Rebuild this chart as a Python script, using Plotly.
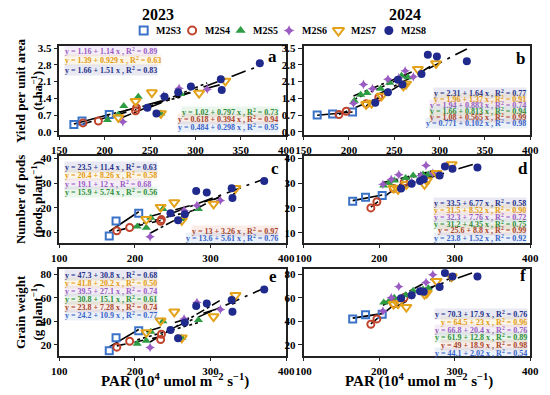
import numpy as np
import plotly.graph_objects as go

groups = ["M2S3", "M2S4", "M2S5", "M2S6", "M2S7", "M2S8"]

# ---- 2023 PAR (10^4 umol m-2 s-1) per group ----
par23 = {
    "M2S3": [166, 175, 205],
    "M2S4": [176, 193, 234, 235],
    "M2S5": [203, 215, 221, 237, 262, 284],
    "M2S6": [220, 265, 282, 313],
    "M2S7": [215, 234, 252, 262, 304, 333],
    "M2S8": [247, 257, 266, 281, 295, 328, 329, 371],
}
yield23 = {
    "M2S3": [0.30, 0.45, 0.72],
    "M2S4": [0.37, 0.45, 0.88, 1.00],
    "M2S5": [0.49, 0.72, 1.08, 1.47, 0.77, 1.58],
    "M2S6": [0.42, 1.50, 1.82, 1.78],
    "M2S7": [0.60, 1.28, 1.64, 0.77, 1.62, 2.13],
    "M2S8": [1.01, 0.77, 1.47, 1.65, 1.89, 2.20, 1.75, 2.87],
}
pods23 = {
    "M2S3": [8.7, 14.7, 17.9],
    "M2S4": [10.8, 12.1, 14.6, 15.3],
    "M2S5": [12.5, 12.0, 16.0, 19.6, 15.5, 19.6],
    "M2S6": [8.4, 19.0, 21.0, 23.0],
    "M2S7": [15.4, 20.3, 22.2, 15.0, 21.6, 27.9],
    "M2S8": [17.9, 15.0, 17.5, 26.8, 26.2, 27.9, 24.0, 30.8],
}
grain23 = {
    "M2S3": [15, 26, 32],
    "M2S4": [18, 23, 24.5, 29],
    "M2S5": [21, 23.5, 31, 40, 26, 41],
    "M2S6": [17.8, 42, 56, 50],
    "M2S7": [30.5, 40.5, 48, 26, 44, 62],
    "M2S8": [32.5, 25.5, 39.0, 53.0, 55.0, 58.0, 48.0, 67.0],
}

# ---- 2024 ----
par24 = {
    "M2S3": [165, 182, 204],
    "M2S4": [189, 197, 219, 233],
    "M2S5": [206, 213, 220, 235, 245, 258, 265],
    "M2S6": [205, 216, 226, 243, 255, 262, 271],
    "M2S7": [219, 225, 236, 260, 263, 276, 296],
    "M2S8": [229, 243, 254, 259, 280, 287, 297, 330],
}
yield24 = {
    "M2S3": [0.70, 0.74, 0.83],
    "M2S4": [0.72, 0.86, 1.17, 1.45],
    "M2S5": [1.30, 1.55, 1.62, 1.80, 2.05, 2.35, 2.28],
    "M2S6": [1.19, 1.98, 1.80, 2.20, 2.25, 2.55, 2.30],
    "M2S7": [1.15, 1.20, 1.50, 1.92, 2.00, 2.62, 2.86],
    "M2S8": [1.22, 1.65, 2.18, 1.98, 2.42, 3.22, 3.15, 2.95],
}
pods24 = {
    "M2S3": [22.7, 24.3, 25.0],
    "M2S4": [20.0, 22.5, 27.8, 30.3],
    "M2S5": [29.0, 30.0, 31.0, 32.0, 33.0, 33.5, 33.5],
    "M2S6": [29.5, 31.5, 33.4, 30.5, 33.0, 37.1, 34.0],
    "M2S7": [28.0, 27.5, 29.5, 29.5, 31.0, 34.0, 37.5],
    "M2S8": [27.8, 29.7, 30.8, 31.5, 33.0, 36.7, 35.8, 36.3],
}
grain24 = {
    "M2S3": [42, 45.5, 46],
    "M2S4": [37.5, 42.0, 55.0, 60.0],
    "M2S5": [56, 57, 60, 62, 66, 67, 68],
    "M2S6": [48.6, 60.0, 69.5, 62.0, 66.0, 73.0, 79.5],
    "M2S7": [54.5, 55.0, 52.0, 63.0, 64.0, 74.0, 78.0],
    "M2S8": [59.5, 62.0, 65.5, 65.0, 69.0, 81.0, 78.0, 78.0],
}

# ---- equation labels ----
eq_a_top = [("M2S6", "y = 1.16 + 1.14 x , R<sup>2</sup> = 0.89"),
            ("M2S7", "y = 1.39 + 0.929 x , R<sup>2</sup> = 0.63"),
            ("M2S8", "y = 1.66 + 1.51 x , R<sup>2</sup> = 0.83")]
eq_a_bot = [("M2S5", "y = 1.02 + 0.797 x , R<sup>2</sup> = 0.73"),
            ("M2S4", "y = 0.618 + 0.394 x , R<sup>2</sup> = 0.94"),
            ("M2S3", "y = 0.484 + 0.298 x , R<sup>2</sup> = 0.95")]
eq_b = [("M2S8", "y = 2.31 + 1.64 x , R<sup>2</sup> = 0.77"),
        ("M2S7", "y = 1.96 + 1.37 x , R<sup>2</sup> = 0.91"),
        ("M2S6", "y = 1.94 + 0.883 x , R<sup>2</sup> = 0.74"),
        ("M2S5", "y = 1.66 + 0.813 x , R<sup>2</sup> = 0.94"),
        ("M2S4", "y = 1.08 + 0.565 x , R<sup>2</sup> = 0.99"),
        ("M2S3", "y = 0.771 + 0.102 x , R<sup>2</sup> = 0.98")]
eq_c_top = [("M2S8", "y = 23.5 + 11.4 x , R<sup>2</sup> = 0.63"),
            ("M2S7", "y = 20.4 + 8.26 x , R<sup>2</sup> = 0.58"),
            ("M2S6", "y = 19.1 + 12 x , R<sup>2</sup> = 0.68"),
            ("M2S5", "y = 15.9 + 5.74 x , R<sup>2</sup> = 0.56")]
eq_c_bot = [("M2S4", "y = 13 + 3.26 x , R<sup>2</sup> = 0.97"),
            ("M2S3", "y = 13.6 + 5.61 x , R<sup>2</sup> = 0.76")]
eq_d = [("M2S8", "y = 33.5 + 6.77 x , R<sup>2</sup> = 0.58"),
        ("M2S7", "y = 31.5 + 8.52 x , R<sup>2</sup> = 0.90"),
        ("M2S6", "y = 32.3 + 7.76 x , R<sup>2</sup> = 0.72"),
        ("M2S5", "y = 31.2 + 4.35 x , R<sup>2</sup> = 0.75"),
        ("M2S4", "y = 25.6 + 8.8 x , R<sup>2</sup> = 0.99"),
        ("M2S3", "y = 23.8 + 1.52 x , R<sup>2</sup> = 0.92")]
eq_e = [("M2S8", "y = 47.3 + 30.8 x , R<sup>2</sup> = 0.68"),
        ("M2S7", "y = 41.8 + 20.2 x , R<sup>2</sup> = 0.50"),
        ("M2S6", "y = 39.5 + 27.1 x , R<sup>2</sup> = 0.74"),
        ("M2S5", "y = 30.8 + 15.1 x , R<sup>2</sup> = 0.61"),
        ("M2S4", "y = 23.8 + 7.28 x , R<sup>2</sup> = 0.74"),
        ("M2S3", "y = 24.2 + 10.9 x , R<sup>2</sup> = 0.77")]
eq_f = [("M2S8", "y = 70.3 + 17.9 x , R<sup>2</sup> = 0.76"),
        ("M2S7", "y = 64.5 + 23 x , R<sup>2</sup> = 0.96"),
        ("M2S6", "y = 66.8 + 20.4 x , R<sup>2</sup> = 0.76"),
        ("M2S5", "y = 61.9 + 12.8 x , R<sup>2</sup> = 0.89"),
        ("M2S4", "y = 49 + 18.9 x , R<sup>2</sup> = 0.98"),
        ("M2S3", "y = 44.1 + 2.02 x , R<sup>2</sup> = 0.54")]

colors = {"M2S3": "#3a72c8", "M2S4": "#c0442c", "M2S5": "#2e9c43",
          "M2S6": "#9a5cc2", "M2S7": "#e3a21a", "M2S8": "#1f2a8c"}
text_colors = {"M2S3": "#3a64c8", "M2S4": "#a8452a", "M2S5": "#2e8f3a",
               "M2S6": "#9a5cc2", "M2S7": "#e39a10", "M2S8": "#26308a"}
symbols = {"M2S3": "square-open", "M2S4": "circle-open", "M2S5": "triangle-up",
           "M2S6": "star-diamond", "M2S7": "triangle-down-open", "M2S8": "circle"}
msize = {"M2S3": 7, "M2S4": 7, "M2S5": 8, "M2S6": 7, "M2S7": 9, "M2S8": 8}
dashes = {"M2S3": "solid", "M2S4": "dash", "M2S5": "dot", "M2S6": "dashdot",
          "M2S7": "longdash", "M2S8": "longdashdot"}

W, H = 550, 395
FONT = "Liberation Serif"

def px2x(px):
    return px / W

def px2y(py):
    return 1 - py / H

# panel frames in pixels (left, right, top, bottom)
frames = {
    1: (53, 287, 43, 133), 2: (305, 539, 43, 133),
    3: (53, 287, 155, 243), 4: (305, 539, 155, 243),
    5: (53, 287, 270, 358), 6: (305, 539, 270, 358),
}
panel_data = {
    1: (par23, yield23), 2: (par24, yield24),
    3: (par23, pods23), 4: (par24, pods24),
    5: (par23, grain23), 6: (par24, grain24),
}

fig = go.Figure()

for p in range(1, 7):
    xs_d, ys_d = panel_data[p]
    xa = "x" if p == 1 else f"x{p}"
    ya = "y" if p == 1 else f"y{p}"
    for g in groups:
        xs = np.array(xs_d[g], dtype=float)
        ys = np.array(ys_d[g], dtype=float)
        k, b = np.polyfit(xs, ys, 1)
        lx = np.array([xs.min(), xs.max()])
        fig.add_trace(go.Scatter(
            x=lx, y=k * lx + b, mode="lines", xaxis=xa, yaxis=ya,
            line=dict(color="black", width=1.6, dash=dashes[g]),
            showlegend=False, hoverinfo="skip"))
    for g in groups:
        open_sym = symbols[g].endswith("open")
        fig.add_trace(go.Scatter(
            x=xs_d[g], y=ys_d[g], mode="markers", xaxis=xa, yaxis=ya,
            name=g, showlegend=False,
            marker=dict(symbol=symbols[g], size=msize[g], color=colors[g],
                        line=dict(color=colors[g], width=2 if open_sym else 0))))

# ---- legend row: markers on a pixel-space strip axis above the panels ----
leg_px = [140, 190, 240, 290, 341, 393]
LEG_TOP, LEG_BOT = 17, 37
for g, lx in zip(groups, leg_px):
    open_sym = symbols[g].endswith("open")
    fig.add_trace(go.Scatter(
        x=[lx], y=[27], mode="markers", xaxis="x7", yaxis="y7",
        showlegend=False, hoverinfo="skip",
        marker=dict(symbol=symbols[g], size=msize[g] + 1, color=colors[g],
                    line=dict(color=colors[g], width=2 if open_sym else 0))))

axis_common = dict(showline=True, linecolor="#222", linewidth=1.5, mirror=True,
                   ticks="outside", ticklen=4, tickwidth=1.3, tickcolor="#222",
                   showgrid=False, zeroline=False,
                   tickfont=dict(family=FONT, size=11, color="black", weight="bold"))

layout = dict(width=W, height=H, margin=dict(l=0, r=0, t=0, b=0),
              paper_bgcolor="white", plot_bgcolor="white", showlegend=False)

yranges = {1: [-0.12, 3.58], 2: [-0.12, 3.58], 3: [6, 40.8], 4: [6, 40.8],
           5: [10.8, 84.2], 6: [10.8, 84.2]}
ytv = {1: [0, 0.7, 1.4, 2.1, 2.8, 3.5], 3: [10, 20, 30, 40], 5: [20, 40, 60, 80]}
xtv_top = [150, 200, 250, 300, 350, 400]
xtv_low = [100, 200, 300, 400]

for p in range(1, 7):
    l, r, t, bt = frames[p]
    sx = "xaxis" if p == 1 else f"xaxis{p}"
    sy = "yaxis" if p == 1 else f"yaxis{p}"
    anchor_y = "y" if p == 1 else f"y{p}"
    anchor_x = "x" if p == 1 else f"x{p}"
    row_key = 1 if p in (1, 2) else (3 if p in (3, 4) else 5)
    xr = [150, 400] if p in (1, 2) else [100, 400]
    xt = xtv_top if p in (1, 2) else xtv_low
    layout[sx] = dict(axis_common, domain=[px2x(l), px2x(r)], anchor=anchor_y,
                      range=xr, tickvals=xt)
    ytext = [f"{v:.1f}" for v in ytv[row_key]] if row_key == 1 else [str(v) for v in ytv[row_key]]
    layout[sy] = dict(axis_common, domain=[px2y(bt), px2y(t)], anchor=anchor_x,
                      range=yranges[p], tickvals=ytv[row_key], ticktext=ytext)

layout["xaxis7"] = dict(domain=[0, 1], range=[0, W], visible=False, anchor="y7", fixedrange=True)
layout["yaxis7"] = dict(domain=[px2y(LEG_BOT), px2y(LEG_TOP)], range=[LEG_BOT, LEG_TOP],
                        visible=False, anchor="x7", fixedrange=True)
fig.update_layout(**layout)

annotations = []

def add_text(px, py, text, size, color="black", xanchor="center", angle=0, bg=None):
    annotations.append(dict(x=px2x(px), y=px2y(py), xref="paper", yref="paper",
                            text=text, showarrow=False, xanchor=xanchor, yanchor="middle",
                            textangle=angle, bgcolor=bg, borderpad=0,
                            font=dict(family=FONT, size=size, color=color, weight="bold")))

def hex_rgba(h, a):
    h = h.lstrip("#")
    return f"rgba({int(h[0:2],16)},{int(h[2:4],16)},{int(h[4:6],16)},{a})"

def add_eqs(eqs, px, pys, anchor):
    for (g, txt), py in zip(eqs, pys):
        add_text(px, py, txt, 8, text_colors[g], xanchor=anchor, bg=hex_rgba(colors[g], 0.10))

# legend labels
for g, lx in zip(groups, leg_px):
    add_text(lx + 12, 27, g, 10, "black", xanchor="left")

add_eqs(eq_a_top, 58, [48, 57.5, 67], "left")
add_eqs(eq_a_bot, 280, [110, 117.5, 125], "right")
add_eqs(eq_b, 536, [91, 97, 103, 109, 115, 121], "right")
add_eqs(eq_c_top, 58, [166, 174.5, 183, 191], "left")
add_eqs(eq_c_bot, 280, [231, 238], "right")
add_eqs(eq_d, 536, [203, 210, 217, 224, 230.5, 238], "right")
add_eqs(eq_e, 58, [276, 284, 292.5, 300.5, 308.5, 317], "left")
add_eqs(eq_f, 537, [316, 324, 332, 339.5, 347, 355], "right")

# panel letters
for letter, (px, py) in zip("abcdef", [(273, 53), (529, 55), (275, 167), (531, 167), (273, 277), (531, 276)]):
    add_text(px, py, letter, 17, "black")

# year titles
add_text(155, 11, "2023", 16)
add_text(410, 11, "2024", 16)

# y-axis titles (two lines each)
add_text(13, 88, "Yield per unit area", 13, angle=-90)
add_text(30, 88, "(t ha<sup>−1</sup>)", 13, angle=-90)
add_text(13, 199, "Number of pods", 13, angle=-90)
add_text(30, 199, "(pods plant<sup>−1</sup>)", 13, angle=-90)
add_text(13, 314, "Grain weight", 13, angle=-90)
add_text(30, 314, "(g plant<sup>−1</sup>)", 13, angle=-90)

# x-axis titles
xt_title = "PAR (10<sup>4</sup> umol m<sup>−2</sup> s<sup>−1</sup>)"
add_text(172, 383, xt_title, 15)
add_text(424, 383, xt_title, 15)

fig.update_layout(annotations=annotations)
fig.write_html("out.html", config={"displayModeBar": False},
               post_script="document.body.style.margin='0';document.body.style.overflow='hidden';")
